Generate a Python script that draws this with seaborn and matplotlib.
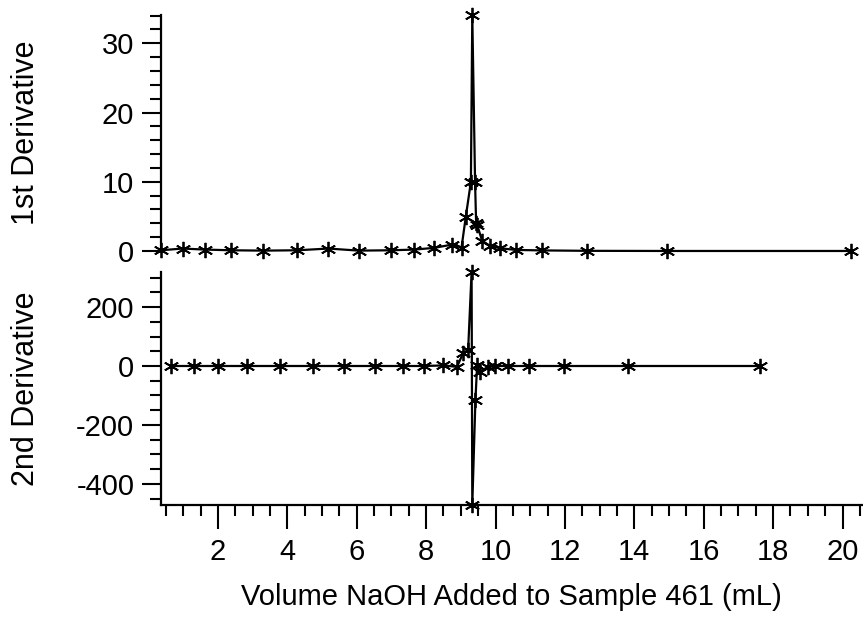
import matplotlib
matplotlib.use("Agg")
import matplotlib.pyplot as plt
import seaborn as sns
import pandas as pd
from matplotlib.ticker import MultipleLocator

# 1st derivative (dpH/dV)
vol_d1 = [0.35, 0.98, 1.63, 2.37, 3.31, 4.29, 5.18, 6.06, 6.99, 7.66, 8.24,
          8.75, 9.02, 9.14, 9.29, 9.33, 9.41, 9.44, 9.47, 9.61, 9.83, 10.12,
          10.59, 11.34, 12.65, 14.95, 20.24]
d1 = [0.1, 0.35, 0.2, 0.1, 0.05, 0.1, 0.35, 0.05, 0.1, 0.2, 0.45,
      0.93, 0.5, 4.85, 10.0, 34.1, 10.0, 4.1, 3.8, 1.5, 0.75, 0.4,
      0.15, 0.08, 0.02, 0.0, 0.0]

# 2nd derivative
vol_d2 = [0.66, 1.30, 2.0, 2.83, 3.79, 4.73, 5.62, 6.53, 7.32, 7.95, 8.50,
          8.89, 9.07, 9.21, 9.31, 9.33, 9.42, 9.47, 9.54, 9.77, 9.99, 10.35,
          10.95, 11.98, 13.83, 17.62]
d2 = [0, 0, 0, 0, 0, 0, 0, 0, 0, 0, 2,
      -3, 45, 54, 320, -472, -117, 5, -22, -3, 0, 0,
      0, 0, 0, 0]

sns.set_style("ticks")
plt.rcParams['font.family'] = ['Liberation Sans', 'DejaVu Sans']
plt.rcParams['axes.unicode_minus'] = False
for k in ("text.color", "axes.labelcolor", "xtick.color", "ytick.color",
          "axes.edgecolor"):
    plt.rcParams[k] = "black"

fig = plt.figure(figsize=(8.63, 6.18), dpi=100)
ax1 = fig.add_axes([0.1862, 0.5939, 0.8138, 0.3819])
ax2 = fig.add_axes([0.1862, 0.1828, 0.8138, 0.3775], sharex=ax1)

df1 = pd.DataFrame({"vol": vol_d1, "d": d1})
df2 = pd.DataFrame({"vol": vol_d2, "d": d2})

star = (6, 2, 0)
for ax, df in [(ax1, df1), (ax2, df2)]:
    sns.lineplot(data=df, x="vol", y="d", ax=ax, sort=False, estimator=None,
                 color="black", lw=1.6, marker=star, ms=11, mew=1.3,
                 mec="black", clip_on=False)

for ax in (ax1, ax2):
    for s in ("top", "right"):
        ax.spines[s].set_visible(False)
    ax.spines["left"].set_linewidth(1.6)
    ax.spines["bottom"].set_linewidth(1.6)
    ax.tick_params(axis="both", which="major", direction="out", length=14,
                   width=1.5, labelsize=21, pad=5)
    ax.tick_params(axis="both", which="minor", direction="out", length=8,
                   width=1.5)

ax1.spines["bottom"].set_visible(False)
ax1.tick_params(axis="x", which="both", bottom=False, labelbottom=False)
ax2.tick_params(axis="x", which="major", length=17, pad=7)

ax1.set_ylim(0, 34.1)
ax1.yaxis.set_major_locator(MultipleLocator(10))
ax1.yaxis.set_minor_locator(MultipleLocator(2))

ax2.set_ylim(-472, 320)
ax2.yaxis.set_major_locator(MultipleLocator(200))
ax2.yaxis.set_minor_locator(MultipleLocator(50))

ax2.set_xlim(0.35, 20.59)
ax2.xaxis.set_major_locator(MultipleLocator(2))
ax2.xaxis.set_minor_locator(MultipleLocator(0.5))

ax1.set_xlabel("")
ax1.set_ylabel("1st Derivative", fontsize=22)
ax2.set_ylabel("2nd Derivative", fontsize=22)
ax1.yaxis.set_label_coords(-0.17, 0.5)
ax2.yaxis.set_label_coords(-0.17, 0.5)
ax2.set_xlabel("Volume NaOH Added to Sample 461 (mL)", fontsize=21, labelpad=12)

fig.savefig("out.png", dpi=100)
